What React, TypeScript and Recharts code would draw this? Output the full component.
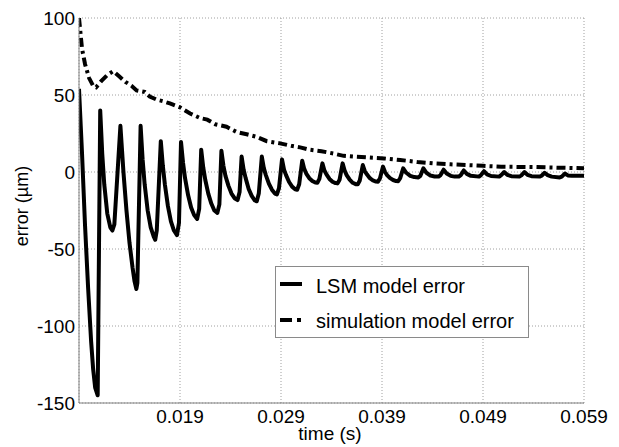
import { LineChart, Line, XAxis, YAxis, CartesianGrid, Legend, Label } from 'recharts';

const lsmTime = [
  0.009, 0.0093, 0.0096, 0.0099, 0.0102, 0.0104, 0.0106, 0.01085,
  0.0111, 0.0113, 0.0115, 0.0118, 0.0121, 0.0123, 0.0125,
  0.0131, 0.0134, 0.0137, 0.014, 0.0143, 0.0145, 0.01468, 0.01478,
  0.0151, 0.0153, 0.0155, 0.0158, 0.0161, 0.0164, 0.01655, 0.0167,
  0.0171, 0.0173, 0.0175, 0.0178, 0.0181, 0.0184, 0.0187, 0.0189,
  0.0191, 0.0193, 0.0195, 0.0198, 0.0201, 0.0204, 0.0207, 0.0209,
  0.0211, 0.0213, 0.0215, 0.0218, 0.0221, 0.0224, 0.0227, 0.0229,
  0.0231, 0.0233, 0.0235, 0.0238, 0.0241, 0.0244, 0.0247, 0.0249,
  0.0251, 0.0253, 0.0255, 0.0258, 0.0261, 0.0264, 0.0266, 0.0268,
  0.0271, 0.0273, 0.0275, 0.0278, 0.0281, 0.0284, 0.0286, 0.0288,
  0.0291, 0.0293, 0.0295, 0.0298, 0.0301, 0.0304, 0.0306, 0.0308,
  0.0311, 0.0313, 0.0315, 0.0318, 0.0321, 0.0324, 0.0326, 0.0328,
  0.0331, 0.0333, 0.0335, 0.0338, 0.0341, 0.0344, 0.0346, 0.0348,
  0.0351, 0.0353, 0.0355, 0.0358, 0.0361, 0.0364, 0.0366, 0.0368,
  0.0371, 0.0373, 0.0375, 0.0378, 0.0381, 0.0384, 0.0386, 0.0388,
  0.0391, 0.0393, 0.0395, 0.0398, 0.0401, 0.0404, 0.0406, 0.0408,
  0.0411, 0.0414, 0.0418, 0.0422, 0.0426, 0.0428,
  0.0431, 0.0434, 0.0438, 0.0442, 0.0446, 0.0448,
  0.0451, 0.0454, 0.0458, 0.0462, 0.0466, 0.0468,
  0.0471, 0.0474, 0.0478, 0.0486, 0.0488,
  0.0491, 0.0494, 0.0498, 0.0506, 0.0508,
  0.0511, 0.0514, 0.0518, 0.0526, 0.0528,
  0.0531, 0.0534, 0.0538, 0.0546, 0.0548,
  0.0551, 0.0554, 0.0558, 0.0566, 0.0568,
  0.0571, 0.0574, 0.0578, 0.059,
];
const lsmError = [
  54, 12, -35, -75, -110, -128, -140, -145,
  40, 12, -8, -27, -36, -38, -34,
  30, 0, -25, -46, -62, -71, -76, -72,
  30, 8, -8, -25, -36, -42, -44, -38,
  20, 4, -8, -22, -32, -38, -41, -33,
  19.5, 6, -4, -15, -23, -28, -30.5, -24,
  14.5, 3, -5, -14, -20.5, -25, -26.5, -21,
  13.8, 4, -2.5, -9, -14, -17, -18.2, -13,
  10, 1.5, -4, -11, -15.5, -18.5, -19, -14,
  10, 2.5, -2, -7.5, -11.5, -14, -14.5, -10.5,
  8.2, 1.5, -2, -6.5, -9.5, -11.2, -11.5, -8,
  7.3, 2, -1, -4, -5.8, -6.8, -7, -4.5,
  5.6, 1, -1.5, -4.5, -6.3, -7.2, -7.4, -5,
  5.6, 1, -2, -5, -7, -7.9, -8, -5.5,
  4.5, 0.5, -1.5, -4, -5.5, -6.2, -6.3, -4,
  3.5, 0, -2, -4, -5.2, -5.9, -6, -4,
  2.4, -0.5, -2.5, -3.3, -3.5, -2.5,
  2.4, -0.5, -2.3, -2.9, -3, -2,
  1.5, -1, -2.5, -3, -3, -2,
  1, -1.2, -2.5, -3, -2,
  0.5, -1.5, -2.6, -3, -2,
  0, -1.8, -2.7, -3, -2.2,
  0, -1.8, -2.7, -3, -2.4,
  -0.5, -2, -3, -3.5, -3,
  -1, -2.2, -2.5, -2.5,
];

// simulation model error
const simTime = [
  0.009, 0.00915, 0.0093, 0.0096, 0.01, 0.0104, 0.0107, 0.0112, 0.0118, 0.0124,
  0.013, 0.0136, 0.0142, 0.0147, 0.0155, 0.016, 0.0167, 0.0173, 0.018, 0.019,
  0.02, 0.021, 0.0217, 0.0225, 0.0236, 0.0246, 0.0256, 0.0265, 0.0276, 0.0289,
  0.03, 0.0309, 0.0318, 0.033, 0.0342, 0.0352, 0.0362, 0.0375, 0.0392, 0.0408,
  0.0425, 0.0441, 0.0458, 0.0475, 0.049, 0.0508, 0.0525, 0.0541, 0.0565, 0.059,
];
const simError = [
  100, 90, 80, 70, 61, 56, 55, 59, 63, 65.5,
  62, 58.5, 56, 53, 52, 49, 47, 46, 44.5, 42,
  38, 35, 34, 31, 29.4, 26, 24.5, 23, 20, 18.6,
  17, 16, 14.5, 13.5, 12, 10.5, 10, 9.5, 8.8, 7.8,
  6.5, 5.6, 5, 4.5, 4, 3.4, 3.3, 3.2, 2.8, 2.4,
];

const xTicks = [0.019, 0.029, 0.039, 0.049, 0.059];
const yTicks = [-150, -100, -50, 0, 50, 100];

const seriesNames = ['LSM model error', 'simulation model error'];
const dashDot = '9 4 3 4';

const lsmData = lsmTime.map((t, i) => ({ t, v: lsmError[i] }));
const simData = simTime.map((t, i) => ({ t, v: simError[i] }));

const font = '"Liberation Sans", Arial, sans-serif';
const tickStyle = { fontSize: 19, fill: '#000', fontFamily: font };

function LegendBox() {
  return (
    <svg width={254} height={72} style={{ display: 'block' }}>
      <rect x={0.5} y={0.5} width={253} height={71} fill="#fff" stroke="#8a8a8a" />
      <line x1={5} x2={27} y1={18} y2={18} stroke="#000" strokeWidth={4} />
      <text x={41} y={27} fontSize={20} fontFamily={font} fill="#000">{seriesNames[0]}</text>
      <line x1={5} x2={27} y1={54} y2={54} stroke="#000" strokeWidth={4} strokeDasharray="12 5 4 20" />
      <text x={41} y={62} fontSize={20} fontFamily={font} fill="#000">{seriesNames[1]}</text>
    </svg>
  );
}

export default function App() {
  return (
    <div style={{ position: 'absolute', left: 0, top: 0, background: '#fff' }}>
      <LineChart
        width={619}
        height={447}
        margin={{ top: 18, right: 35, left: 0, bottom: 0 }}
        style={{ fontFamily: font }}
      >
        <CartesianGrid stroke="#a0a0a0" strokeDasharray="1 2" />
        <XAxis
          type="number"
          dataKey="t"
          domain={[0.009, 0.059]}
          allowDataOverflow
          ticks={xTicks}
          tickFormatter={(v: number) => v.toFixed(3)}
          height={44}
          tick={tickStyle}
          tickLine={false}
          tickSize={0}
          tickMargin={7}
          axisLine={{ stroke: '#808080' }}
        >
          <Label
            content={() => (
              <text x={330} y={440} textAnchor="middle" fontSize={19} fontFamily={font} fill="#000">
                time (s)
              </text>
            )}
          />
        </XAxis>
        <YAxis
          type="number"
          domain={[-150, 100]}
          allowDataOverflow
          ticks={yTicks}
          width={79}
          tick={tickStyle}
          tickLine={false}
          tickSize={0}
          tickMargin={4}
          axisLine={{ stroke: '#808080' }}
        >
          <Label
            content={() => (
              <text
                x={28}
                y={206}
                textAnchor="middle"
                fontSize={18}
                fontFamily={font}
                fill="#000"
                transform="rotate(-90 28 206)"
              >
                error (µm)
              </text>
            )}
          />
        </YAxis>
        <Legend
          layout="horizontal"
          verticalAlign="middle"
          align="center"
          content={() => <LegendBox />}
          wrapperStyle={{ left: 275, top: 266, width: 254, height: 72 }}
        />
        <Line
          data={simData}
          dataKey="v"
          name={seriesNames[1]}
          type="linear"
          stroke="#000"
          strokeWidth={4}
          strokeDasharray={dashDot}
          dot={false}
          isAnimationActive={false}
        />
        <Line
          data={lsmData}
          dataKey="v"
          name={seriesNames[0]}
          type="linear"
          stroke="#000"
          strokeWidth={4}
          strokeLinejoin="round"
          dot={false}
          isAnimationActive={false}
        />
      </LineChart>
    </div>
  );
}
